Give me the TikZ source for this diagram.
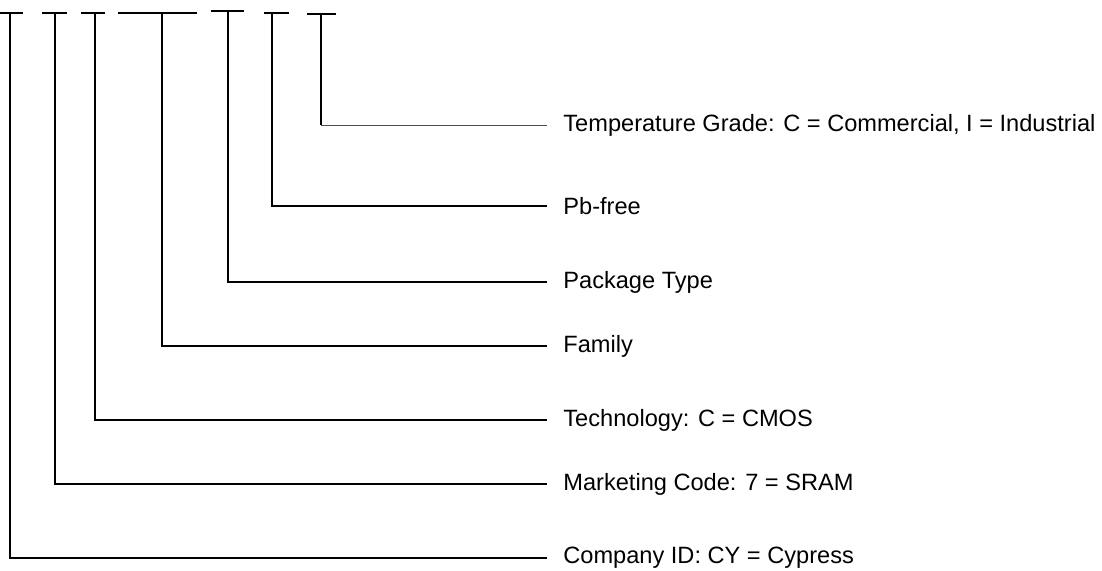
\documentclass[tikz,border=0pt]{standalone}
\usepackage{fontspec}
\setmainfont{Liberation Sans}
\usetikzlibrary{positioning}

\begin{document}
\begin{tikzpicture}[x=0.5pt,y=-0.5pt,font=\fontsize{11.8}{14}\selectfont,
    lbl/.style={anchor=west,inner xsep=8pt,inner ysep=0pt},
    bar/.style={line width=1pt},
    lead/.style={line width=1pt},
    faint/.style={line width=0.6pt,black!70}]
  \useasboundingbox (0,0) rectangle (1102,571);
  % field tops of the part number
  \coordinate (f1) at (10,13);
  \coordinate (f2) at (55,13);
  \coordinate (f3) at (95,13);
  \coordinate (f4) at (162,13);
  \coordinate (f5) at (228,11);
  \coordinate (f6) at (272,13);
  \coordinate (f7) at (321,14);
  \draw[bar] (0,13) -- (23,13);
  \draw[bar] (42,13) -- (67,13);
  \draw[bar] (81,13) -- (105,13);
  \draw[bar] (118,13) -- (197,13);
  \draw[bar] (211,11) -- (244,11);
  \draw[bar] (264,13) -- (289,13);
  \draw[bar] (307,14) -- (336,14);
  % labels
  \node[lbl] (temp) at (547,125.5) {Temperature Grade: C = Commercial, I = Industrial};
  \node[lbl] (pbfree) at (547,206) {Pb-free};
  \node[lbl] (pkg) at (547,282) {Package Type};
  \node[lbl] (family) at (547,346) {Family};
  \node[lbl] (tech) at (547,420) {Technology: C = CMOS};
  \node[lbl] (mkt) at (547,484) {Marketing Code: 7 = SRAM};
  \node[lbl] (comp) at (547,558) {Company ID: CY = Cypress};
  % leaders
  \draw[lead] (f7) -- (f7 |- temp.west);
  \draw[faint] (f7 |- temp.west) -- (temp.west);
  \draw[lead] (f6) |- (pbfree.west);
  \draw[lead] (f5) |- (pkg.west);
  \draw[lead] (f4) |- (family.west);
  \draw[lead] (f3) |- (tech.west);
  \draw[lead] (f2) |- (mkt.west);
  \draw[lead] (f1) |- (comp.west);
\end{tikzpicture}
\end{document}
